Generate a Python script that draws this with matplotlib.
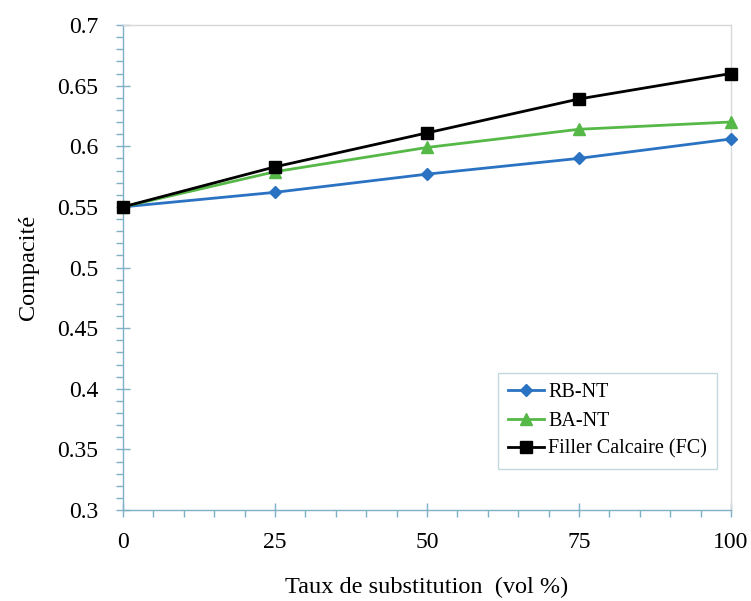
import matplotlib.pyplot as plt
import numpy as np

plt.rcParams['font.family'] = ['Liberation Serif', 'DejaVu Serif']

x = [0, 25, 50, 75, 100]
rb_nt = [0.550, 0.562, 0.577, 0.590, 0.606]
ba_nt = [0.550, 0.579, 0.599, 0.614, 0.620]
fc = [0.550, 0.583, 0.611, 0.639, 0.660]

fig = plt.figure(figsize=(7.51, 6.01), dpi=100)
ax = fig.add_axes([123/751, 1-510/601, (731-123)/751, (510-25)/601])

ax.plot(x, rb_nt, color='#2a72c2', lw=2.0, marker='D', ms=6, label='RB-NT', clip_on=False, zorder=3)
ax.plot(x, ba_nt, color='#55b847', lw=2.0, marker='^', ms=9, label='BA-NT', clip_on=False, zorder=4)
ax.plot(x, fc, color='black', lw=2.0, marker='s', ms=8, label='Filler Calcaire (FC)', clip_on=False, zorder=5)

ax.set_xlim(0, 100)
ax.set_ylim(0.3, 0.7)
ax.set_xticks([0, 25, 50, 75, 100])
ax.set_xticks(np.arange(0, 101, 5), minor=True)
ax.set_yticks(np.arange(0.3, 0.701, 0.05))
ax.set_yticks(np.arange(0.3, 0.701, 0.01), minor=True)
ax.set_yticklabels(['0.3', '0.35', '0.4', '0.45', '0.5', '0.55', '0.6', '0.65', '0.7'])

axis_col = '#7fb0c6'
for s in ['left', 'bottom']:
    ax.spines[s].set_color(axis_col)
    ax.spines[s].set_linewidth(1.0)
for s in ['top', 'right']:
    ax.spines[s].set_color('#d8d8d8')
    ax.spines[s].set_linewidth(1.0)

ax.tick_params(which='major', direction='inout', length=10, width=1, color=axis_col,
               labelsize=17)
ax.tick_params(which='minor', direction='out', length=5, width=1, color=axis_col)
ax.tick_params(axis='y', which='major', pad=13)
ax.tick_params(axis='x', which='major', pad=11)

ax.set_xlabel('Taux de substitution  (vol %)', fontsize=17.5, labelpad=17)
ax.set_ylabel('Compacité', fontsize=17.5, labelpad=13)

leg = ax.legend(loc='lower right', bbox_to_anchor=(0.987, 0.072), fontsize=14.5,
                frameon=True, fancybox=False, handlelength=1.8, handletextpad=0.2,
                borderpad=0.5, labelspacing=0.45, borderaxespad=0.3)
leg.get_frame().set_edgecolor('#b8cfd8')
leg.get_frame().set_linewidth(1.0)

fig.savefig('out.png', dpi=100)
